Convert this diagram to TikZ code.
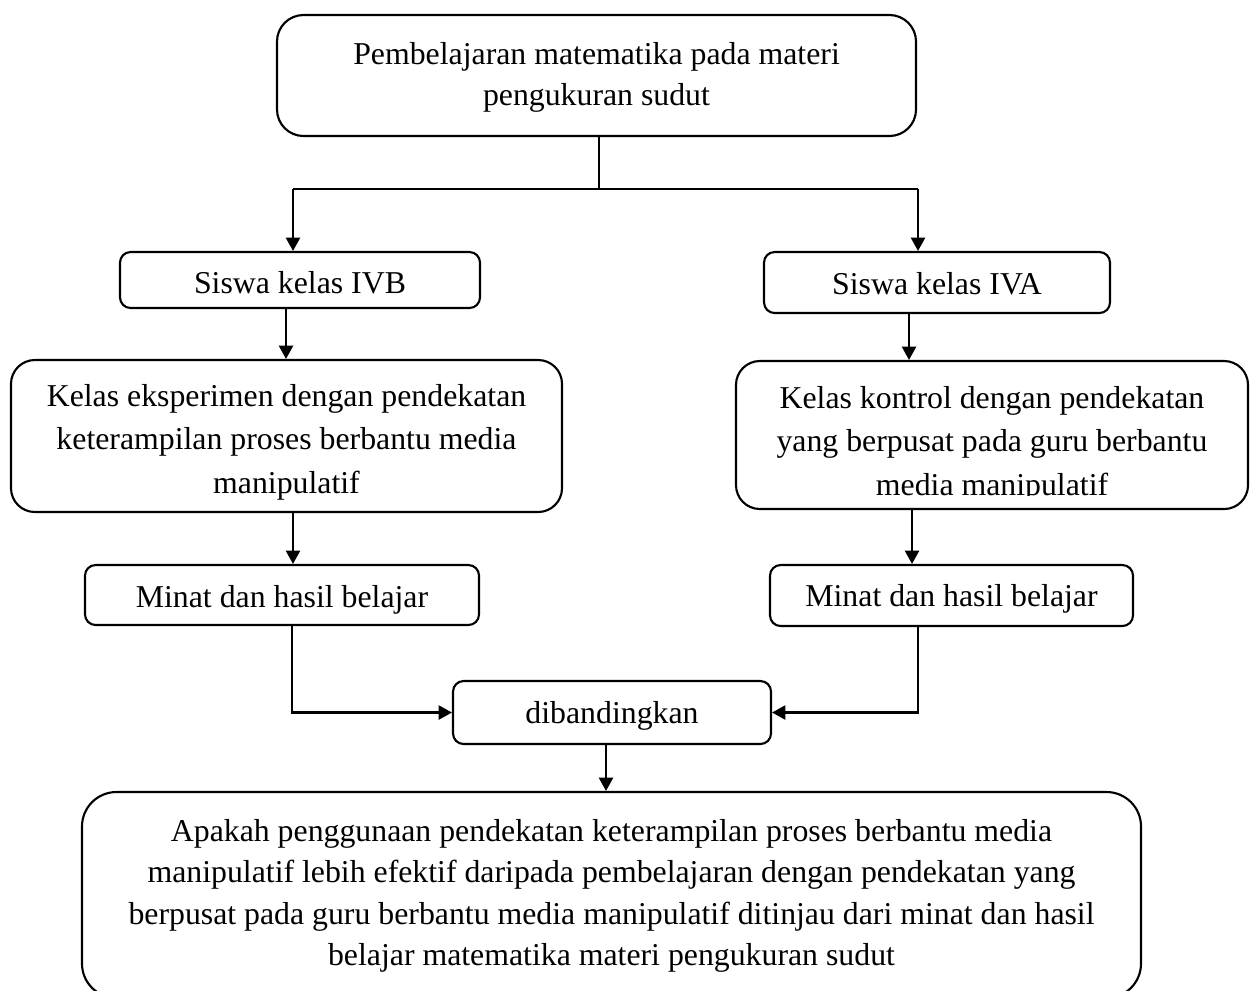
\documentclass[tikz,border=0pt]{standalone}
\usepackage{fontspec}
\setmainfont{Liberation Serif}
\usetikzlibrary{arrows.meta,calc}
\begin{document}
\begin{tikzpicture}[x=0.3774pt,y=-0.3774pt,
  bx/.style={draw,line width=0.8pt,align=center,inner sep=0pt,font=\fontsize{12}{16.2}\selectfont},
  sz/.style 2 args={minimum width=#1*0.3774pt,minimum height=#2*0.3774pt},
  arr/.style={line width=0.8pt,-{Triangle[length=5pt,width=5.3pt]}},
  ln/.style={line width=0.8pt}]
\useasboundingbox (0,0) rectangle (1257,990);

\node[bx,sz={639}{121},rounded corners=10pt,text height=25.2pt,font=\fontsize{12}{15.5}\selectfont] (top) at (596.5,75.5) {Pembelajaran matematika pada materi\\pengukuran sudut};
\node[bx,sz={360}{56},rounded corners=4pt,text height=10.5pt] (ivb) at (300,280) {Siswa kelas IVB};
\node[bx,sz={346}{61},rounded corners=4pt,text height=9pt] (iva) at (937,282.5) {Siswa kelas IVA};
\node[bx,sz={551}{152},rounded corners=9pt,text height=45.9pt,font=\fontsize{12}{16.4}\selectfont] (eks) at (286.5,436) {Kelas eksperimen dengan pendekatan\\keterampilan proses berbantu media\\manipulatif};
\node[bx,sz={512}{148},rounded corners=9pt] (kon) at (992,435) {};
\begin{scope}
\clip (kon.north west) rectangle ($(kon.south east)+(0,-15)$);
\node[align=center,inner sep=0pt,font=\fontsize{12}{16.4}\selectfont] (kontxt) at (992,444) {Kelas kontrol dengan pendekatan\\yang berpusat pada guru berbantu\\media manipulatif};
\end{scope}
\node[bx,sz={394}{60},rounded corners=4pt,text height=12pt] (minl) at (282,595) {Minat dan hasil belajar};
\node[bx,sz={363}{61},rounded corners=4pt,text height=11.2pt] (minr) at (951.5,595.5) {Minat dan hasil belajar};
\node[bx,sz={318}{63},rounded corners=4pt,text height=10.5pt] (dib) at (612,712.5) {dibandingkan};
\node[bx,sz={1059}{206},rounded corners=13pt,text height=56.1pt,font=\fontsize{12}{15.7}\selectfont] (res) at (611.5,895) {Apakah penggunaan pendekatan keterampilan proses berbantu media\\manipulatif lebih efektif daripada pembelajaran dengan pendekatan yang\\berpusat pada guru berbantu media manipulatif ditinjau dari minat dan hasil\\belajar matematika materi pengukuran sudut};

\coordinate (sl) at (293,189);
\coordinate (sr) at (918,189);
\coordinate (sm) at (599,189);
\draw[ln] (top.south -| sm) -- (sm);
\draw[ln] (sl) -- (sr);
\draw[arr] (sl) -- (sl |- ivb.north);
\draw[arr] (sr) -- (sr |- iva.north);
\coordinate (ex) at (286,0);
\coordinate (kx) at (909,0);
\draw[arr] (ivb.south -| ex) -- (eks.north -| ex);
\draw[arr] (iva.south -| kx) -- (kon.north -| kx);
\coordinate (mlx) at (293,0);
\coordinate (mrx) at (912,0);
\draw[arr] (eks.south -| mlx) -- (minl.north -| mlx);
\draw[arr] (kon.south -| mrx) -- (minr.north -| mrx);
\coordinate (clx) at (292,0);
\coordinate (crx) at (918,0);
\draw[arr] (minl.south -| clx) |- (dib.west);
\draw[arr] (minr.south -| crx) |- (dib.east);
\coordinate (dx) at (606,0);
\draw[arr] (dib.south -| dx) -- (res.north -| dx);
\end{tikzpicture}
\end{document}
